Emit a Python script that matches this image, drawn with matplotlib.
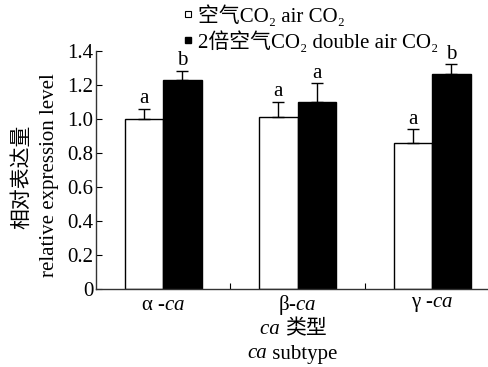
import matplotlib
matplotlib.use("Agg")
import matplotlib.pyplot as plt
from matplotlib.lines import Line2D
from matplotlib.transforms import blended_transform_factory
import numpy as np

FAM = ['Liberation Serif', 'DejaVu Serif', 'Noto Sans CJK SC']
plt.rcParams['font.family'] = FAM
plt.rcParams['mathtext.fontset'] = 'custom'
plt.rcParams['mathtext.rm'] = 'Liberation Serif'
plt.rcParams['mathtext.it'] = 'Liberation Serif:italic'

categories = ['α', 'β', 'γ']
air_vals = [1.00, 1.01, 0.86]
air_err = [0.06, 0.09, 0.08]
double_vals = [1.228, 1.10, 1.266]
double_err = [0.056, 0.11, 0.057]
air_letters = ['a', 'a', 'a']
double_letters = ['b', 'a', 'b']
yticks = [0, 0.2, 0.4, 0.6, 0.8, 1.0, 1.2, 1.4]
ytick_labels = ['0', '0.2', '0.4', '0.6', '0.8', '1.0', '1.2', '1.4']

fs = 15
fig = plt.figure(figsize=(4.88, 3.67), dpi=100)
ax = fig.add_axes([96/488, 1-289/367, 1-96/488, (289-51)/367])

x = np.arange(len(categories))
w = 0.286
ax.bar(x - w/2, air_vals, w, facecolor='white', edgecolor='black', linewidth=1.0)
ax.bar(x + w/2, double_vals, w, facecolor='black', edgecolor='black', linewidth=1.0)
ax.errorbar(x - w/2, air_vals, yerr=[np.zeros(3), air_err], fmt='none', ecolor='black',
            elinewidth=1.0, capsize=4, capthick=1.0)
ax.errorbar(x + w/2, double_vals, yerr=[np.zeros(3), double_err], fmt='none', ecolor='black',
            elinewidth=1.0, capsize=4, capthick=1.0)
for i in range(len(categories)):
    ax.text(x[i] - w/2, air_vals[i] + air_err[i] + 0.003, air_letters[i], ha='center', va='bottom', fontsize=fs)
    ax.text(x[i] + w/2, double_vals[i] + double_err[i] + 0.003, double_letters[i], ha='center', va='bottom', fontsize=fs)

ax.set_ylim(0, 1.4)
ax.set_xlim(-0.5, 2.416)
ax.set_yticks(yticks)
ax.set_yticklabels(ytick_labels, fontsize=fs)
ax.set_xticks([0.5, 1.5])
ax.set_xticklabels([])
ax.tick_params(direction='in', length=4, width=0.8, pad=3)
ax.tick_params(axis='y', pad=2)
for s in ['top', 'right']:
    ax.spines[s].set_visible(False)
for s in ['left', 'bottom']:
    ax.spines[s].set_linewidth(1.0)
    ax.spines[s].set_color('#333333')

trans = blended_transform_factory(ax.transData, fig.transFigure)
for i, c in enumerate(categories):
    lab = c + ' -$\\mathit{ca}$' if c != 'β' else c + '-$\\mathit{ca}$'
    ax.text(x[i], 1 - 305/367, lab, transform=trans, ha='center', va='center', fontsize=fs)

# "ca 类型"
fig.text(285/488, 1 - 330/367, 'ca ', ha='right', va='center', fontsize=fs, style='italic')
fig.text(285/488, 1 - 330/367, '类型', ha='left', va='center', fontsize=fs)
# "ca subtype"
fig.text(267/488, 1 - 354/367, 'ca', ha='right', va='center', fontsize=fs, style='italic')
fig.text(267/488, 1 - 354/367, ' subtype', ha='left', va='center', fontsize=fs)

fig.text(22/488, 1 - 177/367, '相对表达量', rotation=90, ha='center', va='center', fontsize=fs)
fig.text(50/488, 1 - 175/367, 'relative expression level', rotation=90, ha='center', va='center', fontsize=fs)

handles = [Line2D([], [], linestyle='none', marker='s', markersize=5, markerfacecolor='white',
                  markeredgecolor='black', markeredgewidth=0.8),
           Line2D([], [], linestyle='none', marker='s', markersize=5, markerfacecolor='black',
                  markeredgecolor='black')]
labels = ['空气CO₂ air CO₂', '2倍空气CO₂ double air CO₂']
fig.legend(handles, labels, loc='upper left', bbox_to_anchor=(183/488, 1 - 5/367), frameon=False,
           fontsize=fs, handlelength=0.5, handletextpad=0.2, labelspacing=0.2, borderpad=0,
           borderaxespad=0)

fig.savefig('out.png', dpi=100)
